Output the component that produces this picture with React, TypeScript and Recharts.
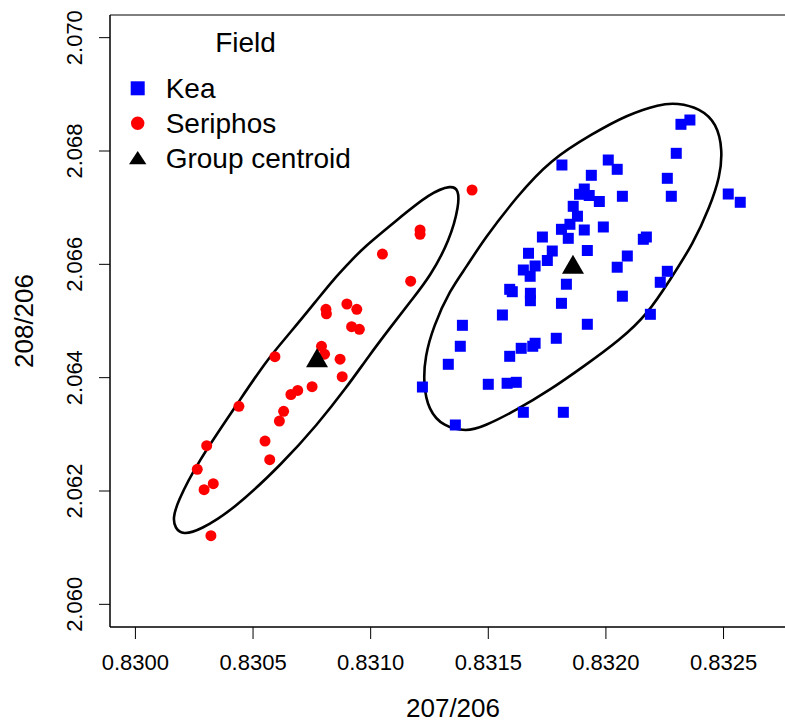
import React from 'react';
import { ComposedChart, Scatter, XAxis, YAxis, Legend, ReferenceArea } from 'recharts';

const FONT = '"Liberation Sans", Arial, Helvetica, sans-serif';

const xTicks = [0.83, 0.8305, 0.831, 0.8315, 0.832, 0.8325];
const yTicks = [2.06, 2.062, 2.064, 2.066, 2.068, 2.07];
const xDomain = [0.829892, 0.832808];
const yDomain = [2.0596, 2.0704];

const legendTitle = 'Field';
const legendLabels = ['Kea', 'Seriphos', 'Group centroid'];

// Kea samples
const keaX = [
  0.832357, 0.832319, 0.832299, 0.831813, 0.83201, 0.832048, 0.831938, 0.832261, 0.832278, 0.83252,
  0.832571, 0.831908, 0.831888, 0.831929, 0.831972, 0.83207, 0.831861, 0.831879, 0.831847, 0.831811,
  0.831908, 0.831989, 0.83184, 0.832172, 0.832159, 0.831921, 0.832091, 0.832048, 0.832261, 0.832231,
  0.831832, 0.83207, 0.831811, 0.831921, 0.832189, 0.83173, 0.831772, 0.831671, 0.831751, 0.831699,
  0.831649, 0.831678, 0.831591, 0.831602, 0.831679, 0.831679, 0.83156, 0.83139, 0.831789, 0.831699,
  0.831689, 0.83164, 0.831591, 0.831381, 0.83133, 0.83122, 0.8315, 0.83158, 0.831619, 0.831649,
  0.831819, 0.83136,
];
const keaY = [
  2.068547, 2.068471, 2.067959, 2.067753, 2.067841, 2.067677, 2.067571, 2.067518, 2.067201, 2.067241,
  2.067095, 2.067329, 2.067236, 2.067215, 2.067109, 2.067201, 2.067024, 2.066849, 2.066707, 2.066618,
  2.066606, 2.066659, 2.066459, 2.066482, 2.066442, 2.066244, 2.066147, 2.065949, 2.065877, 2.065683,
  2.065649, 2.065438, 2.065312, 2.064942, 2.065118, 2.066482, 2.066235, 2.066195, 2.066068, 2.065971,
  2.0659, 2.065789, 2.065559, 2.065517, 2.065489, 2.065358, 2.065106, 2.064924, 2.064695, 2.064607,
  2.064554, 2.064518, 2.064377, 2.064554, 2.064236, 2.063835, 2.063883, 2.063901, 2.063918, 2.063389,
  2.063389, 2.063165,
];

// Seriphos samples
const seriphosX = [
  0.831431, 0.83121, 0.83121, 0.83105, 0.83117, 0.83081, 0.830812, 0.830899, 0.830941, 0.830919,
  0.830952, 0.830791, 0.830804, 0.83087, 0.830879, 0.830751, 0.83069, 0.830661, 0.830593, 0.83063,
  0.830612, 0.83044, 0.830551, 0.830571, 0.830303, 0.830263, 0.830331, 0.830292, 0.830321,
];
const seriphosY = [
  2.067312, 2.066606, 2.06653, 2.066182, 2.065702, 2.065207, 2.065127, 2.0653, 2.065207, 2.064899,
  2.064854, 2.064554, 2.064414, 2.064326, 2.064017, 2.063841, 2.063774, 2.063703, 2.06437, 2.063407,
  2.063235, 2.063495, 2.062882, 2.062552, 2.0628, 2.062383, 2.062129, 2.062023, 2.061211,
];

// group centroids: Kea, Seriphos
const centroidX = [0.83186, 0.830772];
const centroidY = [2.065944, 2.064294];

// ellipse outlines (closed curves)
const keaEllipseX = [
  0.831621, 0.831762, 0.831946, 0.832088, 0.83223, 0.832302, 0.8324, 0.832471, 0.832496, 0.832485,
  0.832442, 0.832372, 0.832272, 0.832179, 0.83206, 0.831904, 0.831762, 0.831621, 0.831479, 0.831408,
  0.831309, 0.831245, 0.831224, 0.831231, 0.831266, 0.831337, 0.831408, 0.831479,
];
const keaEllipseY = [
  2.067194, 2.067841, 2.068312, 2.068635, 2.068829, 2.068847, 2.068754, 2.068489, 2.068018, 2.067547,
  2.067017, 2.066371, 2.065724, 2.065132, 2.064665, 2.064194, 2.063782, 2.063429, 2.063135, 2.063047,
  2.063135, 2.063429, 2.063901, 2.06437, 2.064899, 2.065547, 2.065958, 2.066429,
];
const seriphosEllipseX = [
  0.830558, 0.830657, 0.830772, 0.83084, 0.830912, 0.830967, 0.831112, 0.831252, 0.831345, 0.831373,
  0.831376, 0.831337, 0.831252, 0.831174, 0.831082, 0.830989, 0.830899, 0.830772, 0.830627, 0.830415,
  0.830275, 0.830202, 0.830168, 0.83016, 0.830177, 0.830262, 0.830436,
];
const seriphosEllipseY = [
  2.064312, 2.064788, 2.065371, 2.065724, 2.066041, 2.066288, 2.066782, 2.067259, 2.0674, 2.067312,
  2.067047, 2.066429, 2.065782, 2.065371, 2.064877, 2.064365, 2.063835, 2.063165, 2.062494, 2.061665,
  2.061312, 2.061224, 2.061347, 2.061524, 2.061788, 2.062494, 2.063553,
];

const zip = (xs: number[], ys: number[]) => xs.map((x, i) => ({ x, y: ys[i] }));

const keaData = zip(keaX, keaY);
const seriphosData = zip(seriphosX, seriphosY);
const centroidData = zip(centroidX, centroidY);
const keaEllipse = zip(keaEllipseX, keaEllipseY);
const seriphosEllipse = zip(seriphosEllipseX, seriphosEllipseY);

const BlueSquare = (props: any) => (
  <rect x={props.cx - 5.5} y={props.cy - 5.5} width={11} height={11} fill="#0000ff" />
);
const RedDot = (props: any) => <circle cx={props.cx} cy={props.cy} r={5.5} fill="#ff0000" />;
const BigTriangle = (props: any) => {
  const { cx, cy } = props;
  return <path d={`M${cx},${cy - 12.7} L${cx + 11},${cy + 6.35} L${cx - 11},${cy + 6.35} Z`} fill="#000" />;
};
const NoShape = () => <g />;

const YTick = ({ x, y, payload }: any) => (
  <text
    transform={`translate(${x - 17},${y}) rotate(-90)`}
    textAnchor="middle"
    fontSize={22}
    fontFamily={FONT}
    fill="#000"
  >
    {payload.value.toFixed(3)}
  </text>
);

const YTitle = (props: any) => {
  const vb = props.viewBox;
  return (
    <text
      transform={`translate(${vb.x + 23},${vb.y + vb.height / 2}) rotate(-90)`}
      textAnchor="middle"
      fontSize={26}
      fontFamily={FONT}
      fill="#000"
    >
      208/206
    </text>
  );
};

const LegendBox = () => (
  <svg width={400} height={190} style={{ display: 'block' }} fontFamily={FONT} fontSize={28}>
    <text x={245.5} y={51.7} textAnchor="middle" fill="#000">{legendTitle}</text>
    <rect x={130.7} y={81.3} width={14} height={14} fill="#0000ff" />
    <text x={165.7} y={97.7} fill="#000">{legendLabels[0]}</text>
    <circle cx={137.7} cy={123.3} r={6.7} fill="#ff0000" />
    <text x={165.7} y={133.3} fill="#000">{legendLabels[1]}</text>
    <path d="M137.7,151 L146.4,164.3 L129,164.3 Z" fill="#000" />
    <text x={165.7} y={168.3} fill="#000">{legendLabels[2]}</text>
  </svg>
);

export default function App() {
  return (
    <div style={{ position: 'absolute', left: 0, top: 0, width: 785, height: 722, overflow: 'hidden', background: '#fff' }}>
      <ComposedChart width={800} height={722} margin={{ top: 15, right: 4, bottom: 0, left: 10 }}>
        <XAxis
          type="number"
          dataKey="x"
          domain={xDomain}
          allowDataOverflow
          ticks={xTicks}
          interval={0}
          tickFormatter={(v: number) => v.toFixed(4)}
          stroke="#000"
          tickSize={12}
          tickMargin={15}
          height={95}
          tick={{ fontSize: 22, fill: '#000', fontFamily: FONT }}
          label={{ value: '207/206', position: 'insideBottom', offset: 5, fontSize: 26, fill: '#000', fontFamily: FONT }}
        />
        <YAxis
          type="number"
          dataKey="y"
          domain={yDomain}
          allowDataOverflow
          ticks={yTicks}
          interval={0}
          stroke="#000"
          tickSize={11}
          tickMargin={0}
          width={100}
          tick={<YTick />}
          label={{ content: YTitle }}
        />
        <ReferenceArea
          x1={xDomain[0]}
          x2={xDomain[1]}
          y1={yDomain[0]}
          y2={yDomain[1]}
          fill="none"
          fillOpacity={0}
          stroke="#000"
          strokeWidth={1}
          ifOverflow="visible"
        />
        <Legend
          layout="vertical"
          align="center"
          verticalAlign="middle"
          content={LegendBox}
          wrapperStyle={{ position: 'absolute', left: 0, top: 0, width: 400, height: 190 }}
        />
        <Scatter
          name="Kea ellipse"
          data={keaEllipse}
          shape={NoShape}
          line={{ stroke: '#000', strokeWidth: 2.6 }}
          lineType="joint"
          lineJointType="basisClosed"
          legendType="none"
          isAnimationActive={false}
        />
        <Scatter
          name="Seriphos ellipse"
          data={seriphosEllipse}
          shape={NoShape}
          line={{ stroke: '#000', strokeWidth: 2.6 }}
          lineType="joint"
          lineJointType="basisClosed"
          legendType="none"
          isAnimationActive={false}
        />
        <Scatter name="Kea" data={keaData} shape={BlueSquare} isAnimationActive={false} />
        <Scatter name="Seriphos" data={seriphosData} shape={RedDot} isAnimationActive={false} />
        <Scatter name="Group centroid" data={centroidData} shape={BigTriangle} isAnimationActive={false} />
      </ComposedChart>
    </div>
  );
}
